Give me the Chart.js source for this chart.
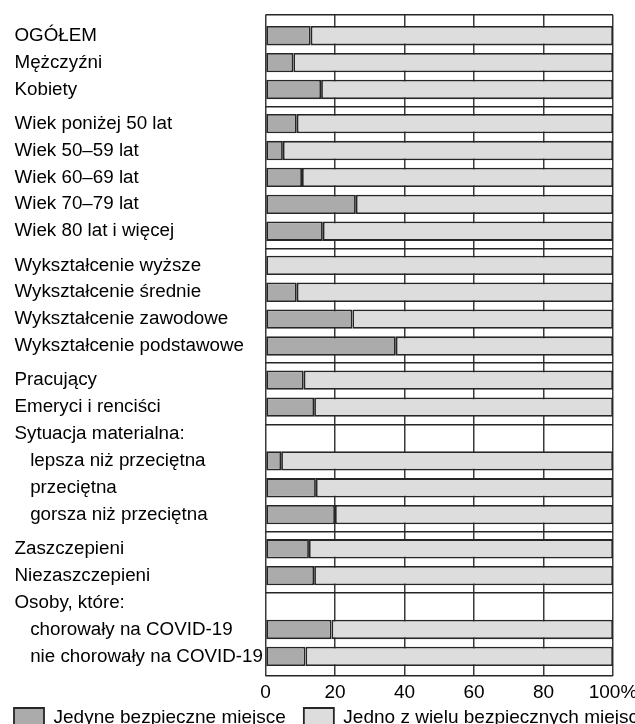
<!DOCTYPE html>
<html lang="pl">
<head>
<meta charset="utf-8">
<title>Bezpieczne miejsce</title>
<script src="https://cdn.jsdelivr.net/npm/chart.js@4.4.1/dist/chart.umd.min.js"></script>
<style>
  html, body { margin: 0; padding: 0; background: #fff; overflow: hidden; }
  /* canvas is wider/taller than the window on purpose: the legend runs off the edge like in the print */
  #wrap { width: 700px; height: 754px; }
</style>
</head>
<body>
<div id="wrap"><canvas id="chart" width="700" height="754"></canvas></div>
<script>
// --- data (percent) ---
const categories = [
  'OGÓŁEM', 'Mężczyźni', 'Kobiety',
  'Wiek poniżej 50 lat', 'Wiek 50–59 lat', 'Wiek 60–69 lat', 'Wiek 70–79 lat', 'Wiek 80 lat i więcej',
  'Wykształcenie wyższe', 'Wykształcenie średnie', 'Wykształcenie zawodowe', 'Wykształcenie podstawowe',
  'Pracujący', 'Emeryci i renciści',
  'Sytuacja materialna:', '   lepsza niż przeciętna', '   przeciętna', '   gorsza niż przeciętna',
  'Zaszczepieni', 'Niezaszczepieni',
  'Osoby, które:', '   chorowały na COVID-19', '   nie chorowały na COVID-19'
];
// null = heading row without a bar
const jedyne = [13, 8, 16, 9, 5, 10.5, 26, 16.5, 0, 9, 25, 37.5, 11, 14, null, 4.5, 14.5, 20, 12.5, 14, null, 19, 11.5];
const jedno  = [87, 92, 84, 91, 95, 89.5, 74, 83.5, 100, 91, 75, 62.5, 89, 86, null, 95.5, 85.5, 80, 87.5, 86, null, 81, 88.5];
// a double rule separates groups; these rows start a new group
const groupStarts = [3, 8, 12, 18];
const xTicks = [0, 20, 40, 60, 80, 100];

// --- layout in "row" units on a linear y scale ---
const SEP = 0.27;   // extra gap before a group
const BAR = 0.72;   // bar thickness as a share of one row
const rowPos = [];
let p = 0;
categories.forEach((c, i) => {
  if (groupStarts.includes(i)) p += SEP;
  rowPos.push(p);
  p += 1;
});
const Y_MIN = -0.77;
const Y_MAX = rowPos[rowPos.length - 1] + 0.73;

// horizontal rules: frame, group separators, and the top edge of heading rows
const ruleVals = [Y_MIN, Y_MAX];
groupStarts.forEach(i => ruleVals.push((rowPos[i - 1] + rowPos[i]) / 2));
jedyne.forEach((v, i) => { if (v === null) ruleVals.push(rowPos[i] - BAR / 2); });
ruleVals.sort((a, b) => a - b);

const toPoints = arr => arr
  .map((v, i) => (v === null ? null : { x: v, y: rowPos[i] }))
  .filter(Boolean);

Chart.defaults.font.family = '"Liberation Sans", Arial, sans-serif';
Chart.defaults.color = '#000';

// the print puts the first legend box flush with the row labels, just under the axis
const legendNudge = {
  id: 'legendNudge',
  afterLayout(chart) {
    const lg = chart.legend;
    const pad = lg.options.labels.padding;
    lg.left = 14 - pad;
    lg.top = chart.chartArea.bottom + 32 - pad;
  }
};

new Chart(document.getElementById('chart'), {
  type: 'bar',
  data: {
    datasets: [
      { label: 'Jedyne bezpieczne miejsce', data: toPoints(jedyne), backgroundColor: '#ababab' },
      { label: 'Jedno z wielu bezpiecznych miejsc', data: toPoints(jedno), backgroundColor: '#dddddd' }
    ]
  },
  options: {
    indexAxis: 'y',
    responsive: false,
    animation: false,
    layout: { padding: { top: 15, left: 14.5, right: 0, bottom: 0 } },
    datasets: {
      bar: {
        barPercentage: BAR,
        categoryPercentage: 1,
        borderWidth: 1.8,
        borderColor: '#262626',
        borderSkipped: false
      }
    },
    plugins: {
      tooltip: { enabled: false },
      legend: {
        position: 'bottom',
        align: 'start',
        labels: { boxWidth: 30, boxHeight: 20, padding: 18, color: '#000', font: { size: 19 } }
      }
    },
    scales: {
      x: {
        type: 'linear',
        min: 0,
        max: 100,
        stacked: true,
        grid: { color: '#3a3a3a', lineWidth: 1.5, drawTicks: false },
        border: { display: false },
        afterBuildTicks: s => { s.ticks = xTicks.map(v => ({ value: v })); },
        ticks: {
          padding: 5,
          color: '#000',
          font: { size: 19 },
          callback: v => (v === 100 ? '100%' : v)
        },
        afterFit: s => { s.height = 30; }
      },
      y: {
        type: 'linear',
        min: Y_MIN,
        max: Y_MAX,
        reverse: true,
        stacked: true,
        offset: false,
        grid: { display: false, offset: false },
        border: { display: false },
        afterBuildTicks: s => { s.ticks = rowPos.map(v => ({ value: v })); },
        ticks: {
          autoSkip: false,
          crossAlign: 'far',
          color: '#000',
          font: { size: 18.8 },
          callback: (v, i) => categories[i]
        },
        afterFit: s => { s.width = 251; }
      },
      rules: {
        type: 'linear',
        position: 'right',
        min: Y_MIN,
        max: Y_MAX,
        reverse: true,
        offset: false,
        grid: { color: '#262626', lineWidth: 1.5, drawTicks: false, offset: false },
        border: { display: false },
        ticks: { display: false },
        afterBuildTicks: s => { s.ticks = ruleVals.map(v => ({ value: v })); },
        // empty strip to the right of the plot, where the print leaves white space
        afterFit: s => { s.width = 87; }
      }
    }
  },
  plugins: [legendNudge]
});
</script>
</body>
</html>
